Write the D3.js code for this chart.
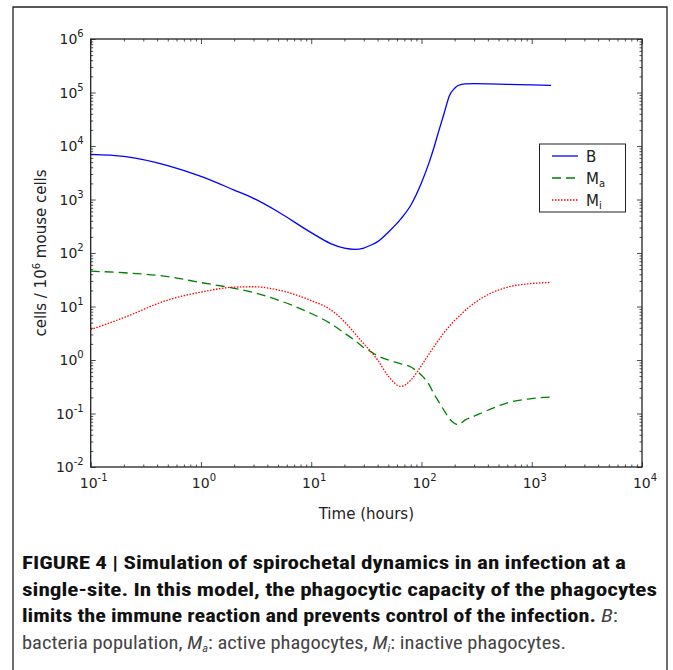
<!DOCTYPE html>
<html>
<head>
<meta charset="utf-8">
<script src="https://cdn.jsdelivr.net/npm/d3@7"></script>
<style>
  body { margin: 0; background: #fff; }
  svg { display: block; }
</style>
</head>
<body>
<svg id="chart"></svg>
<script>
// time points (hours) and the three populations
let hours = [0.1, 0.2, 0.5, 1, 2, 3, 5, 10, 15, 20, 25, 30, 35, 40, 50, 65, 80, 100,
             118, 130, 145, 160, 180, 200, 215, 250, 300, 400, 600, 1000, 1500]

let bacteria = [7000, 6400, 4300, 2700, 1500, 1050, 590, 240, 150, 123, 117, 124, 141, 163, 245, 435, 780, 2050,
                5100, 9500, 20500, 40000, 89000, 120000, 135000, 145000, 146000, 145000, 142000, 139000, 136000]

let activePhago = [45.7, 42.7, 36.3, 28, 21.9, 18.2, 13.2, 7.4, 4.8, 3.2, 2.3, 1.7, 1.42, 1.2, 1.0, 0.85, 0.74, 0.52,
                   0.34, 0.23, 0.16, 0.115, 0.079, 0.065, 0.062, 0.076, 0.089, 0.115, 0.158, 0.19, 0.204]

let inactivePhago = [3.7, 6.2, 13.2, 18.6, 23, 23.4, 20.4, 12.9, 8.7, 5.2, 3.1, 2.0, 1.42, 1.0, 0.5, 0.32, 0.42, 0.79,
                     1.33, 1.78, 2.45, 3.24, 4.3, 5.5, 6.3, 8.5, 11.5, 16.6, 22.9, 26.9, 28.2]

let seriesNames = ['B', 'M', 'M']
let seriesSubs = ['', 'a', 'i']
let xPowers = [-1, 0, 1, 2, 3, 4]
let yPowers = [-2, -1, 0, 1, 2, 3, 4, 5, 6]

let width = 673
let height = 670

let padLeft = 90.7, padRight = 642, padTop = 39, padBottom = 467

let svg = d3.select('#chart')
svg.attr('width', width).attr('height', height)

// outer figure frame (open at the bottom)
svg.append('path')
   .attr('d', `M13,${height + 2} L13,7 L667,7 L667,${height + 2}`)
   .attr('fill', 'none')
   .attr('stroke', '#222')
   .attr('stroke-width', 1.3)

let xScale = d3.scaleLog().domain([0.1, 1e4]).range([padLeft, padRight])
let yScale = d3.scaleLog().domain([1e-2, 1e6]).range([padBottom, padTop])

let xMajor = xPowers.map(p => Math.pow(10, p))
let yMajor = yPowers.map(p => Math.pow(10, p))
let xMinor = xScale.ticks().filter(v => !xMajor.some(m => Math.abs(m - v) / m < 1e-9))
let yMinor = yScale.ticks().filter(v => !yMajor.some(m => Math.abs(m - v) / m < 1e-9))

const tickStyle = g => {
    g.select('.domain').remove()
    g.selectAll('line').attr('stroke', '#222').attr('stroke-width', 0.8)
}

// inward ticks on all four sides
const drawTicks = (axisFn, scale, values, size, transform) => {
    svg.append('g')
       .attr('transform', transform)
       .call(axisFn(scale).tickValues(values).tickSize(-size).tickFormat(''))
       .call(tickStyle)
}
drawTicks(d3.axisBottom, xScale, xMajor, 5, `translate(0,${padBottom})`)
drawTicks(d3.axisBottom, xScale, xMinor, 2.5, `translate(0,${padBottom})`)
drawTicks(d3.axisTop, xScale, xMajor, 5, `translate(0,${padTop})`)
drawTicks(d3.axisTop, xScale, xMinor, 2.5, `translate(0,${padTop})`)
drawTicks(d3.axisLeft, yScale, yMajor, 5, `translate(${padLeft},0)`)
drawTicks(d3.axisLeft, yScale, yMinor, 2.5, `translate(${padLeft},0)`)
drawTicks(d3.axisRight, yScale, yMajor, 5, `translate(${padRight},0)`)
drawTicks(d3.axisRight, yScale, yMinor, 2.5, `translate(${padRight},0)`)

svg.append('rect')
   .attr('x', padLeft).attr('y', padTop)
   .attr('width', padRight - padLeft).attr('height', padBottom - padTop)
   .attr('fill', 'none')
   .attr('stroke', '#222')
   .attr('stroke-width', 1.3)

// tick labels as 10 with superscript power
const powLabel = (sel, p) => {
    sel.append('tspan').text('10')
    sel.append('tspan').attr('dy', -7).attr('font-size', 10).text(p)
}

svg.append('g').selectAll('text')
   .data(xPowers)
   .enter()
   .append('text')
   .attr('x', p => xScale(Math.pow(10, p)) + 3)
   .attr('y', padBottom + 21)
   .attr('text-anchor', 'middle')
   .attr('font-family', 'DejaVu Sans, sans-serif')
   .attr('font-size', 14)
   .attr('fill', '#222')
   .each(function (p) { powLabel(d3.select(this), p) })

svg.append('g').selectAll('text')
   .data(yPowers)
   .enter()
   .append('text')
   .attr('x', padLeft - 7)
   .attr('y', p => yScale(Math.pow(10, p)) + 5)
   .attr('text-anchor', 'end')
   .attr('font-family', 'DejaVu Sans, sans-serif')
   .attr('font-size', 14)
   .attr('fill', '#222')
   .each(function (p) { powLabel(d3.select(this), p) })

// axis titles
svg.append('text')
   .attr('x', (padLeft + padRight) / 2)
   .attr('y', 519)
   .attr('text-anchor', 'middle')
   .attr('font-family', 'DejaVu Sans, sans-serif')
   .attr('font-size', 15)
   .attr('fill', '#222')
   .text('Time (hours)')

let yTitle = svg.append('text')
   .attr('transform', `translate(46,${(padTop + padBottom) / 2}) rotate(-90)`)
   .attr('text-anchor', 'middle')
   .attr('font-family', 'DejaVu Sans, sans-serif')
   .attr('font-size', 15)
   .attr('fill', '#222')
yTitle.append('tspan').text('cells / 10')
yTitle.append('tspan').attr('dy', -6).attr('font-size', 10).text('6')
yTitle.append('tspan').attr('dy', 6).text(' mouse cells')

// curves
let series = [
    { values: bacteria, color: '#0000ff', dash: null },
    { values: activePhago, color: '#008000', dash: '9,5' },
    { values: inactivePhago, color: '#ff0000', dash: '1.5,1.5' }
]

let line = d3.line()
             .x(d => xScale(d[0]))
             .y(d => yScale(d[1]))
             .curve(d3.curveMonotoneX)

svg.append('g').selectAll('path')
   .data(series)
   .enter()
   .append('path')
   .attr('d', s => line(hours.map((h, i) => [h, s.values[i]])))
   .attr('fill', 'none')
   .attr('stroke', s => s.color)
   .attr('stroke-width', 1.3)
   .attr('stroke-dasharray', s => s.dash)

// legend
let legend = svg.append('g')
legend.append('rect')
      .attr('x', 539.5).attr('y', 144)
      .attr('width', 86).attr('height', 68)
      .attr('fill', '#fff')
      .attr('stroke', '#222')
      .attr('stroke-width', 1)

let legendRows = legend.selectAll('g.row')
      .data(series)
      .enter()
      .append('g')
      .attr('class', 'row')
      .attr('transform', (s, i) => `translate(0,${156 + i * 22})`)

legendRows.append('line')
      .attr('x1', 552).attr('x2', 578)
      .attr('stroke', s => s.color)
      .attr('stroke-width', 1.3)
      .attr('stroke-dasharray', s => s.dash)

legendRows.append('text')
      .attr('x', 586)
      .attr('y', 5.5)
      .attr('font-family', 'DejaVu Sans, sans-serif')
      .attr('font-size', 15)
      .attr('fill', '#222')
      .each(function (s, i) {
          let t = d3.select(this)
          t.append('tspan').text(seriesNames[i])
          if (seriesSubs[i]) t.append('tspan').attr('dy', 3).attr('font-size', 10).text(seriesSubs[i])
      })

// caption
let captionLines = [
    [['FIGURE 4 | Simulation of spirochetal dynamics in an infection at a', 'b']],
    [['single-site. In this model, the phagocytic capacity of the phagocytes', 'b']],
    [['limits the immune reaction and prevents control of the infection.', 'b'], [' ', 'n'], ['B', 'i'], [':', 'n']],
    [['bacteria population, ', 'n'], ['M', 'i'], ['a', 'is'], [': active phagocytes, ', 'n'], ['M', 'i'], ['i', 'is'], [': inactive phagocytes.', 'n']]
]
// rendered width of each caption line
let captionWidths = [604, 635, 596, 544]

let caption = svg.append('g')
                 .attr('font-family', "'Liberation Sans Narrow', 'Roboto Condensed', 'Liberation Sans', Arial, sans-serif")
                 .attr('font-size', 18)

captionLines.forEach((parts, li) => {
    let t = caption.append('text')
                   .attr('x', 22)
                   .attr('y', 569 + li * 26.7)
                   .attr('textLength', captionWidths[li])
                   .attr('lengthAdjust', 'spacingAndGlyphs')
    let shifted = false
    parts.forEach(([txt, st]) => {
        let ts = t.append('tspan').text(txt)
        ts.attr('fill', st === 'b' ? '#111' : '#444')
        if (st === 'b') ts.attr('font-weight', 'bold')
        if (st === 'i' || st === 'is') ts.attr('font-style', 'italic')
        if (st === 'is') { ts.attr('font-size', 11).attr('dy', 3); shifted = true }
        else if (shifted) { ts.attr('dy', -3); shifted = false }
    })
})
</script>
</body>
</html>
